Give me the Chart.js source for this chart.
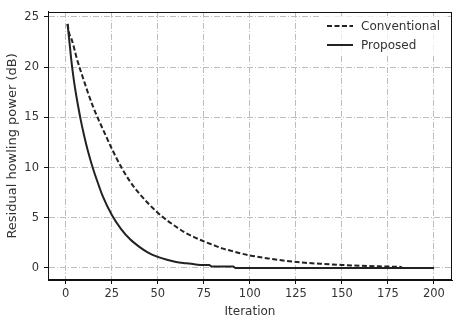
<!DOCTYPE html>
<html>
<head>
<meta charset="utf-8">
<script src="https://cdn.jsdelivr.net/npm/chart.js@4/dist/chart.umd.min.js"></script>
<style>
  html, body { margin: 0; padding: 0; background: #fff; }
  #wrap { width: 461px; height: 329px; }
</style>
</head>
<body>
<div id="wrap"><canvas id="c" width="461" height="329"></canvas></div>
<script>
// ---- data ----
const seriesNames = ["Conventional", "Proposed"];
const iterConv = [1,2,3,4,5,6,8,10,12,15,18,20,25,30,35,40,45,50,55,60,65,70,75,80,85,90,95,100,110,120,130,140,150,160,170,180,182,183,190,200];
const convPower = [24.3,23.3,22.9,22.3,21.6,20.9,19.7,18.6,17.5,16.0,14.7,13.9,11.9,10.1,8.6,7.4,6.4,5.5,4.75,4.1,3.5,3.05,2.65,2.3,1.95,1.7,1.45,1.25,0.95,0.7,0.52,0.4,0.3,0.22,0.16,0.12,0.1,0,0,0];
const iterProp = [1,2,3,4,5,6,8,10,12,15,18,20,25,30,35,40,45,50,55,60,65,70,75,78,79,91,92,200];
const propPower = [24.3,22.6,20.8,19.3,18.0,16.9,14.9,13.2,11.7,9.8,8.2,7.2,5.3,3.9,2.85,2.1,1.5,1.1,0.82,0.6,0.47,0.36,0.3,0.3,0.15,0.15,0,0];
const xTickValues = [0,25,50,75,100,125,150,175,200];
const yTickValues = [0,5,10,15,20,25];
const xTitle = "Iteration";
const yTitle = "Residual howling power (dB)";

const toPts = (xs, ys) => xs.map((x, i) => ({x: x, y: ys[i]}));

const FAM = "'DejaVu Sans', sans-serif";
const TICKFONT = { family: FAM, size: 11.5 };
const TXT = '#333333';
const LINE = '#222222';
const GRID = '#bdbdbd';

const framePlugin = {
  id: 'frame',
  afterDatasetsDraw(chart) {
    const {ctx, chartArea: a} = chart;
    ctx.save();
    // legend (semi-transparent white box, no edge)
    ctx.fillStyle = 'rgba(255,255,255,0.75)';
    ctx.fillRect(320, 16, 128, 39);
    const rows = [26, 45];
    chart.data.datasets.forEach((ds, i) => {
      const y = rows[i];
      ctx.strokeStyle = ds.borderColor;
      ctx.lineWidth = ds.borderWidth;
      ctx.setLineDash(ds.borderDash || []);
      ctx.beginPath();
      ctx.moveTo(327, y);
      ctx.lineTo(353, y);
      ctx.stroke();
      ctx.setLineDash([]);
      ctx.fillStyle = TXT;
      ctx.font = "12px " + FAM;
      ctx.textBaseline = 'middle';
      ctx.textAlign = 'left';
      ctx.fillText(ds.label, 361, y + 1);
    });
    // four spines
    ctx.strokeStyle = '#111111';
    ctx.lineWidth = 1;
    ctx.strokeRect(Math.round(a.left) + 0.5, Math.round(a.top) + 0.5,
                   Math.round(a.right - a.left) - 1, Math.round(a.bottom - a.top) - 1);
    ctx.restore();
  }
};

new Chart(document.getElementById('c'), {
  type: 'line',
  data: {
    datasets: [
      { label: seriesNames[0], data: toPts(iterConv, convPower), borderColor: LINE, borderWidth: 2,
        borderDash: [5, 2.5], pointRadius: 0, pointHoverRadius: 0, fill: false, cubicInterpolationMode: 'monotone' },
      { label: seriesNames[1], data: toPts(iterProp, propPower), borderColor: LINE, borderWidth: 2,
        pointRadius: 0, pointHoverRadius: 0, fill: false, cubicInterpolationMode: 'monotone' }
    ]
  },
  options: {
    responsive: false,
    animation: false,
    layout: { autoPadding: false, padding: { left: 0, right: 9, top: 9, bottom: 0 } },
    plugins: { legend: { display: false }, tooltip: { enabled: false } },
    scales: {
      x: {
        type: 'linear', min: -9.6, max: 209.8,
        afterBuildTicks: s => { s.ticks = xTickValues.map(v => ({ value: v })); },
        afterFit: s => { s.height = 49; },
        ticks: { font: TICKFONT, color: TXT, padding: 3, maxRotation: 0, autoSkip: false },
        grid: { color: GRID, lineWidth: 1, tickColor: '#111', tickLength: 4, tickBorderDash: [] },
        border: { display: true, color: '#111', width: 1, dash: [6, 2, 1, 2] },
        title: { display: true, text: xTitle, font: { family: FAM, size: 12 }, color: TXT, padding: { top: 0, bottom: 10 } }
      },
      y: {
        type: 'linear', min: -1.2, max: 25.5,
        afterBuildTicks: s => { s.ticks = yTickValues.map(v => ({ value: v })); },
        afterFit: s => { s.width = 48; },
        ticks: { font: TICKFONT, color: TXT, padding: 5, autoSkip: false },
        grid: { color: GRID, lineWidth: 1, tickColor: '#111', tickLength: 4, tickBorderDash: [] },
        border: { display: true, color: '#111', width: 1, dash: [6, 2, 1, 2] },
        title: { display: true, text: yTitle, font: { family: FAM, size: 13 }, color: TXT, padding: { top: 5, bottom: 0 } }
      }
    }
  },
  plugins: [framePlugin]
});
</script>
</body>
</html>
